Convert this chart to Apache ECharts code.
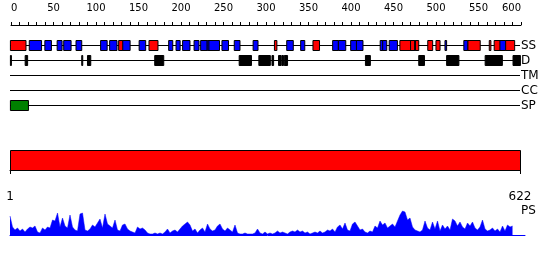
<!DOCTYPE html>
<html><head><meta charset="utf-8">
<script src="https://cdn.jsdelivr.net/npm/echarts@6/dist/echarts.min.js"></script>
<style>html,body{margin:0;padding:0;background:#fff}#c{width:550px;height:260px}</style>
</head><body><div id="c"></div>
<script>
// ---- data ----
var trackNames = ['SS','D','TM','CC','SP'];
var seqLength = 622;
var rulerTickLabels = [0,50,100,150,200,250,300,350,400,450,500,550,600];
// secondary structure: [start, end, type]  (H = helix red, E = strand blue)
var ssSegments = [
 [1,19,'H'],[24,38,'E'],[43,50,'E'],[58,63,'E'],[66,74,'E'],[81,87,'E'],
 [111,118,'E'],[122,130,'E'],[133,138,'H'],[138,146,'E'],[158,165,'E'],[170,180,'H'],
 [194,198,'E'],[203,207,'E'],[211,219,'E'],[225,230,'E'],[233,240,'E'],[241,243,'E'],
 [243,255,'E'],[259,266,'E'],[274,280,'E'],[297,302,'E'],[323,325,'H'],[338,345,'E'],
 [355,359,'E'],[370,377,'H'],[394,400,'E'],[401,409,'E'],[416,423,'E'],[423,430,'E'],
 [452,455,'E'],[455,459,'E'],[463,472,'E'],[476,489,'H'],[489,494,'H'],[494,495,'E'],
 [495,498,'H'],[510,515,'H'],[520,524,'H'],[531,532,'E'],[554,558,'E'],[559,573,'H'],
 [585,586,'H'],[591,598,'H'],[598,605,'E'],[605,615,'H']
];
// disorder: [start, end]
var disorderSegments = [
 [1,1],[19,21],[88,88],[95,98],[177,187],[280,294],[304,317],[320,321],
 [328,330],[332,333],[335,338],[434,439],[499,505],[533,547],[580,600],[614,622]
];
var tmSegments = [];
var ccSegments = [];
var spSegments = [[1,22]];
var domainSegments = [[1,622]];
var domainTickLabels = [1,622];
// PS profile, one value per 3 residues (sampled)
var psProfile = [
 19,8,5,7,4,6,3,6,8,7,9,3,2,7,5,8,7,15,14,22,8,17,9,7,20,8,5,4,21,22,
 5,4,6,10,8,12,16,7,21,11,9,7,15,5,4,10,11,6,4,3,2,8,6,7,5,2,1,1,2,1,
 2,1,3,6,2,4,5,3,6,9,11,13,10,4,6,2,5,7,3,11,6,4,5,9,11,6,4,7,5,3,
 10,2,1,1,2,1,1,1,2,6,2,1,3,1,2,1,2,4,2,3,2,1,3,4,3,5,3,4,2,3,
 1,2,3,2,4,2,3,5,4,6,3,8,10,6,12,5,4,11,13,9,5,6,3,2,4,3,9,7,14,10,
 12,7,9,11,8,14,20,24,23,15,17,8,5,4,3,5,14,7,5,13,6,14,4,10,6,9,5,16,14,9,
 13,8,6,12,9,13,7,5,8,15,6,4,5,7,4,6,3,9,4,10,8,9
];

// ---- build ----
var colorMap = {H:'#ff0000', E:'#0000ff', D:'#000000', SP:'#008000', DOM:'#ff0000'};
var boxData = [];
ssSegments.forEach(function(s){ boxData.push([s[0]-0.5, s[1]+0.5, 'SS', s[2]]); });
disorderSegments.forEach(function(s){ boxData.push([s[0]-0.5, s[1]+0.5, 'D', 'D']); });
tmSegments.forEach(function(s){ boxData.push([s[0]-0.5, s[1]+0.5, 'TM', 'D']); });
ccSegments.forEach(function(s){ boxData.push([s[0]-0.5, s[1]+0.5, 'CC', 'D']); });
spSegments.forEach(function(s){ boxData.push([s[0]-0.5, s[1]+0.5, 'SP', 'SP']); });
var lineData = trackNames.map(function(n){ return [0, seqLength, n]; });
var psData = psProfile.map(function(v,i){ return [i, v]; });

var FONT = 'DejaVu Sans';
var chart = echarts.init(document.getElementById('c'), null, {renderer:'canvas'});
var hidden = {show:false};
chart.setOption({
  animation:false,
  textStyle:{fontFamily:FONT},
  title:{text:'PS', left:521, top:205, padding:0, textStyle:{fontSize:12, fontWeight:'normal', color:'#000', fontFamily:FONT}},
  grid:[
    {left:11, width:510, top:15, height:10},
    {left:10, width:510, top:38, height:75},
    {left:10, width:510, top:150, height:20},
    {left:10, width:515, top:210, height:25}
  ],
  xAxis:[
    {gridIndex:0, type:'value', position:'top', min:0, max:600, interval:10,
     axisLine:{lineStyle:{color:'#000', width:1}},
     axisTick:{length:3, lineStyle:{color:'#000'}},
     axisLabel:{customValues:rulerTickLabels, fontSize:10, color:'#000', margin:2, fontFamily:FONT,
       alignMinLabel:'left', alignMaxLabel:'right', hideOverlap:false},
     splitLine:hidden},
    {gridIndex:1, type:'value', min:0, max:seqLength, show:false},
    {gridIndex:2, type:'value', min:1, max:seqLength, offset:10,
     axisLine:{lineStyle:{color:'#000', width:1}},
     axisTick:{customValues:domainTickLabels, length:4, lineStyle:{color:'#000'}},
     axisLabel:{customValues:domainTickLabels, fontSize:12, color:'#000', margin:11, fontFamily:FONT},
     splitLine:hidden},
    {gridIndex:3, type:'value', min:0, max:206,
     axisLine:{lineStyle:{color:'#0000ff', width:1}},
     axisTick:hidden, axisLabel:hidden, splitLine:hidden}
  ],
  yAxis:[
    {gridIndex:0, type:'value', show:false},
    {gridIndex:1, type:'category', data:trackNames, inverse:true, position:'right',
     axisLine:hidden, axisTick:hidden, splitLine:hidden,
     axisLabel:{interval:0, hideOverlap:false, fontSize:12, color:'#000', margin:1, fontFamily:FONT}},
    {gridIndex:2, type:'value', min:0, max:1, show:false},
    {gridIndex:3, type:'value', min:0, max:25, show:false}
  ],
  series:[
    {type:'custom', xAxisIndex:1, yAxisIndex:1, data:lineData, silent:true,
     renderItem:function(params, api){
       var a = api.coord([api.value(0), api.value(2)]);
       var b = api.coord([api.value(1), api.value(2)]);
       var y = Math.floor(a[1]) + 0.5;
       return {type:'line', shape:{x1:a[0], y1:y, x2:b[0], y2:y}, style:{stroke:'#000', lineWidth:1}};
     }},
    {type:'custom', xAxisIndex:1, yAxisIndex:1, data:boxData, silent:true,
     encode:{x:[0,1], y:2},
     renderItem:function(params, api){
       var a = api.coord([api.value(0), api.value(2)]);
       var b = api.coord([api.value(1), api.value(2)]);
       var t = boxData[params.dataIndex][3];
       var y = Math.floor(a[1]) + 0.5;
       return {type:'rect', shape:{x:a[0], y:y-5, width:Math.max(b[0]-a[0],1), height:10},
         style:{fill:colorMap[t], stroke:'#000', lineWidth:1}};
     }},
    {type:'custom', xAxisIndex:2, yAxisIndex:2, data:domainSegments, silent:true,
     renderItem:function(params, api){
       var a = api.coord([api.value(0), 1]);
       var b = api.coord([api.value(1), 0]);
       return {type:'rect', shape:{x:Math.round(a[0])+0.5, y:Math.round(a[1])+0.5, width:Math.round(b[0]-a[0]), height:Math.round(b[1]-a[1])},
         style:{fill:colorMap.DOM, stroke:'#000', lineWidth:1}};
     }},
    {type:'line', xAxisIndex:3, yAxisIndex:3, data:psData, showSymbol:false, silent:true,
     lineStyle:{color:'#0000ff', width:0.5}, areaStyle:{color:'#0000ff', opacity:1}}
  ]
});
</script></body></html>
